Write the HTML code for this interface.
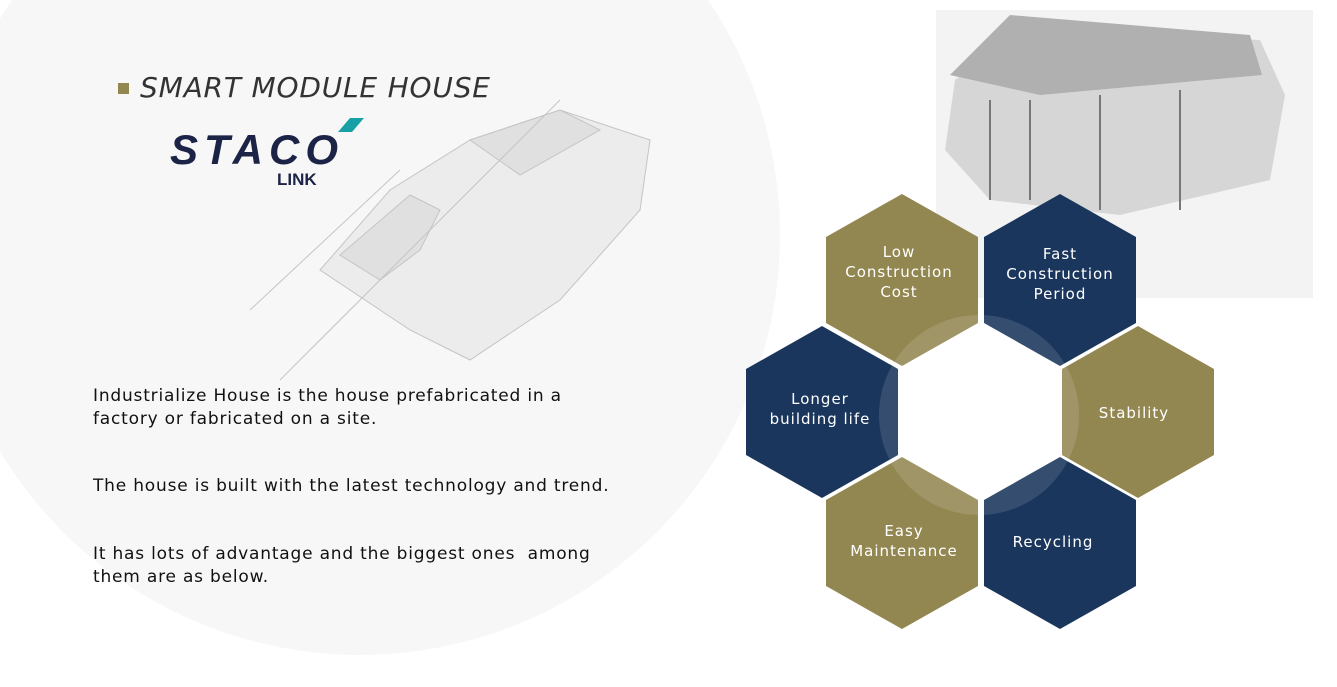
<!DOCTYPE html>
<html><head><meta charset="utf-8"><style>
body{margin:0;width:1337px;height:687px;overflow:hidden;background:#fff;font-family:"Liberation Sans",sans-serif;position:relative}
.t{position:absolute;color:#111}
</style></head><body>
<svg width="1337" height="687" style="position:absolute;left:0;top:0">
<circle cx="360" cy="235" r="420" fill="#f7f7f7"/>
<g stroke="#c4c4c4" fill="#ececec" stroke-width="1">
<polygon points="320,270 390,190 470,140 560,110 650,140 640,210 560,300 470,360 410,330"/>
<polygon points="340,255 410,195 440,210 420,250 380,280" fill="#e0e0e0"/>
<polygon points="470,140 560,110 600,130 520,175" fill="#e0e0e0"/>
<line x1="250" y1="310" x2="400" y2="170"/>
<line x1="280" y1="380" x2="560" y2="100"/>
</g>
<rect x="936" y="10" width="377" height="288" fill="#f3f3f3"/>
<polygon points="955,80 1020,30 1260,40 1285,95 1270,180 1120,215 990,200 945,150" fill="#d6d6d6"/>
<polygon points="950,75 1010,15 1250,35 1262,75 1040,95" fill="#b0b0b0"/>
<g stroke="#777" stroke-width="2"><line x1="990" y1="100" x2="990" y2="200"/><line x1="1030" y1="100" x2="1030" y2="200"/><line x1="1100" y1="95" x2="1100" y2="210"/><line x1="1180" y1="90" x2="1180" y2="210"/></g>
<g>
<polygon points="902,194 978,237 978,323 902,366 826,323 826,237" fill="#938751"/>
<polygon points="1060,194 1136,237 1136,323 1060,366 984,323 984,237" fill="#1a365d"/>
<polygon points="822,326 898,369 898,455 822,498 746,455 746,369" fill="#1a365d"/>
<polygon points="1138,326 1214,369 1214,455 1138,498 1062,455 1062,369" fill="#938751"/>
<polygon points="902,457 978,500 978,586 902,629 826,586 826,500" fill="#938751"/>
<polygon points="1060,457 1136,500 1136,586 1060,629 984,586 984,500" fill="#1a365d"/>
<circle cx="979" cy="415" r="100" fill="#ffffff" opacity="0.12"/>
</g>
<g font-family="DejaVu Sans,sans-serif" font-size="15" fill="#fff" text-anchor="middle" letter-spacing="1">
<text x="899" y="257">Low</text><text x="899" y="277">Construction</text><text x="899" y="297">Cost</text>
<text x="1060" y="259">Fast</text><text x="1060" y="279">Construction</text><text x="1060" y="299">Period</text>
<text x="820" y="404">Longer</text><text x="820" y="424">building life</text>
<text x="1134" y="418">Stability</text>
<text x="904" y="536">Easy</text><text x="904" y="556">Maintenance</text>
<text x="1053" y="547">Recycling</text>
</g>
<rect x="118" y="83" width="11" height="11" fill="#938751"/>
<text x="140" y="97" font-family="DejaVu Sans,sans-serif" font-style="italic" font-size="28" fill="#333" textLength="350">SMART MODULE HOUSE</text>
<text x="170" y="164" font-family="Liberation Sans,sans-serif" font-weight="bold" font-style="italic" font-size="42" fill="#1b2346" textLength="168">STACO</text>
<polygon points="350,118 364,118 352,132 338,132" fill="#17a0a5"/>
<text x="277" y="185" font-family="Liberation Sans,sans-serif" font-weight="bold" font-size="17" fill="#1b2346">LINK</text>
</svg>
<div class="t" style="left:93px;top:385px;font-size:17px;line-height:23px;font-family:'DejaVu Sans',sans-serif;letter-spacing:0.8px">Industrialize House is the house prefabricated in a<br>factory or fabricated on a site.</div>
<div class="t" style="left:93px;top:476px;font-size:17px;font-family:'DejaVu Sans',sans-serif;letter-spacing:0.8px">The house is built with the latest technology and trend.</div>
<div class="t" style="left:93px;top:543px;font-size:17px;line-height:23px;font-family:'DejaVu Sans',sans-serif;letter-spacing:0.8px">It has lots of advantage and the biggest ones&nbsp; among<br>them are as below.</div>
</body></html>
